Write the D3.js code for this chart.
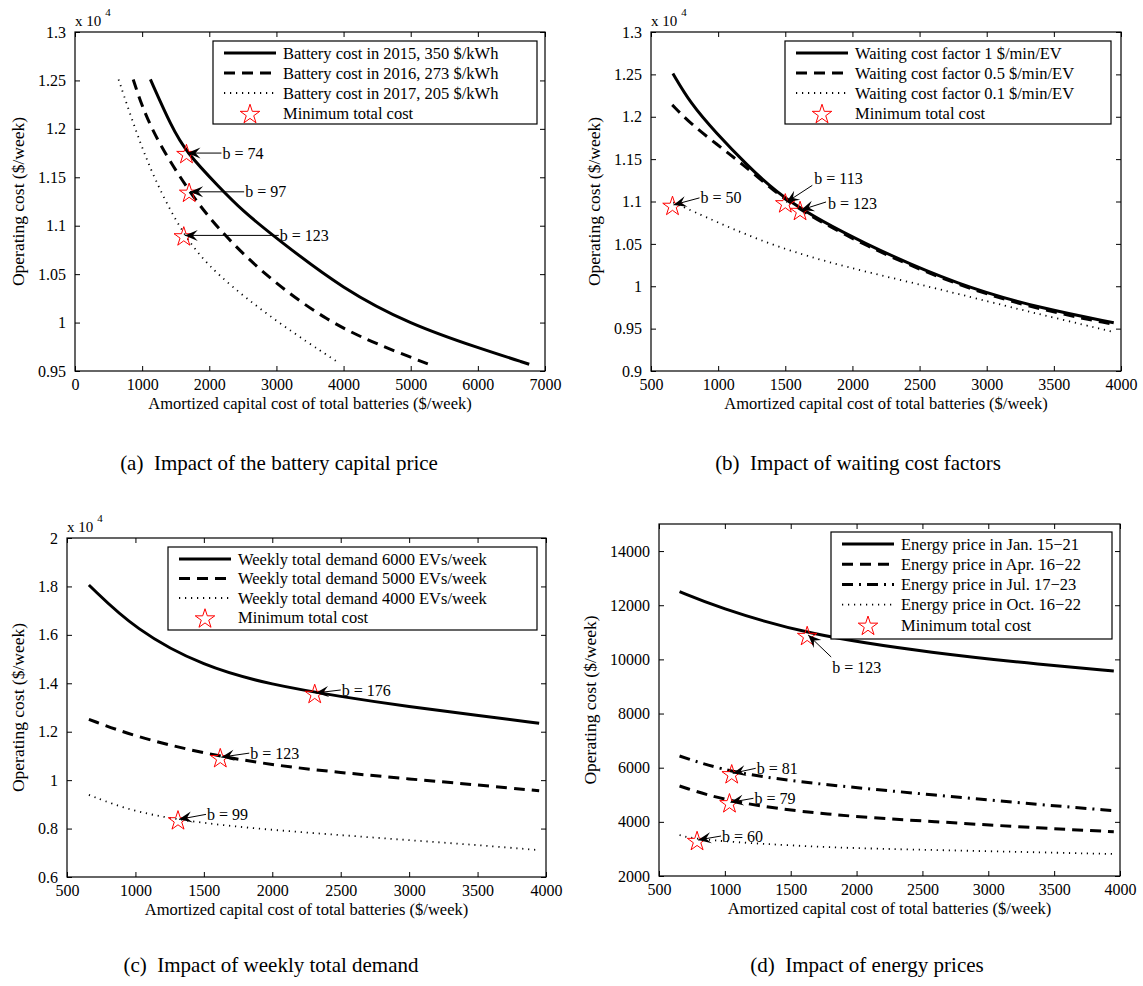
<!DOCTYPE html>
<html>
<head>
<meta charset="utf-8">
<script src="https://cdn.jsdelivr.net/npm/d3@7"></script>
<style>
body { margin: 0; background: #fff; }
text { font-family: "Liberation Serif", "Times New Roman", serif; fill: #000; }
</style>
</head>
<body>
<div id="chart"></div>
<script>
// ---- data ----
// (a) battery capital price, operating cost in x10^4
var a2015 = [[1123,1.251],[1438,1.202],[1655,1.176],[2145,1.140],[2500,1.115],[3000,1.087],[4000,1.034],[5000,0.998],[6000,0.974],[6765,0.957]];
var a2016 = [[867,1.251],[1111,1.200],[1699,1.135],[2090,1.100],[2797,1.050],[3776,1.000],[4590,0.975],[5270,0.957]];
var a2017 = [[649,1.251],[894,1.200],[1166,1.150],[1617,1.089],[2090,1.050],[3014,1.000],[3938,0.958]];
var aMin = [[1660,1.175,"b = 74"],[1700,1.135,"b = 97"],[1620,1.090,"b = 123"]];
var aNames = ["Battery cost in 2015, 350 $/kWh","Battery cost in 2016, 273 $/kWh","Battery cost in 2017, 205 $/kWh"];

// (b) waiting cost factors
var b1 = [[663,1.251],[793,1.216],[984,1.181],[1202,1.145],[1500,1.100],[2071,1.051],[2805,1.000],[3430,0.973],[3946,0.957]];
var b05 = [[658,1.214],[793,1.192],[994,1.167],[1174,1.145],[1419,1.112],[1609,1.090],[2071,1.049],[2805,0.999],[3430,0.971],[3946,0.955]];
var b01 = [[666,1.099],[984,1.076],[1419,1.047],[1935,1.023],[2615,0.998],[3159,0.976],[3500,0.963],[3946,0.946]];
var bMin = [[660,1.096,"b = 50"],[1500,1.099,"b = 113"],[1610,1.090,"b = 123"]];
var bNames = ["Waiting cost factor 1 $/min/EV","Waiting cost factor 0.5 $/min/EV","Waiting cost factor 0.1 $/min/EV"];

// (c) weekly total demand
var c6000 = [[660,1.806],[1000,1.620],[1500,1.468],[2000,1.393],[2500,1.345],[3000,1.303],[3500,1.268],[3950,1.235]];
var c5000 = [[660,1.251],[1000,1.179],[1500,1.110],[2000,1.062],[2500,1.031],[3000,1.005],[3500,0.980],[3950,0.956]];
var c4000 = [[660,0.939],[1000,0.865],[1500,0.821],[2000,0.794],[2500,0.773],[3000,0.752],[3500,0.732],[3950,0.711]];
var cMin = [[2310,1.360,"b = 176"],[1620,1.095,"b = 123"],[1311,0.838,"b = 99"]];
var cNames = ["Weekly total demand 6000 EVs/week","Weekly total demand 5000 EVs/week","Weekly total demand 4000 EVs/week"];

// (d) energy prices
var dJan = [[656,12500],[933,11946],[1625,10900],[2595,10225],[3427,9793],[3953,9571]];
var dApr = [[656,5324],[1035,4722],[1764,4253],[2595,4006],[3427,3760],[3953,3637]];
var dJul = [[656,6432],[1052,5793],[1764,5361],[2595,4991],[3427,4622],[3953,4412]];
var dOct = [[656,3514],[789,3329],[1764,3045],[2595,2960],[3953,2812]];
var dMin = [[1625,10900,"b = 123"],[1052,5793,"b = 81"],[1035,4722,"b = 79"],[789,3329,"b = 60"]];
var dNames = ["Energy price in Jan. 15\u221221","Energy price in Apr. 16\u221222","Energy price in Jul. 17\u221223","Energy price in Oct. 16\u221222"];

var xTicksA = [0,1000,2000,3000,4000,5000,6000,7000];
var xTicksB = [500,1000,1500,2000,2500,3000,3500,4000];
var yTicksA = [0.95,1,1.05,1.1,1.15,1.2,1.25,1.3];
var yTicksB = [0.9,0.95,1,1.05,1.1,1.15,1.2,1.25,1.3];
var yTicksC = [0.6,0.8,1,1.2,1.4,1.6,1.8,2];
var yTicksD = [2000,4000,6000,8000,10000,12000,14000];

var xTitle = "Amortized capital cost of total batteries ($/week)";
var yTitle = "Operating cost ($/week)";
var starName = "Minimum total cost";

// line styles
var SOLID = {w: 3, dash: null};
var DASH = {w: 3, dash: "11,7"};
var DOT = {w: 1.8, dash: "1.2,4.8"};
var DASHDOT = {w: 3, dash: "11,6,2,6"};

var svg = d3.select("#chart").append("svg")
  .attr("width", 1143).attr("height", 986);

function arrow(g, x1, y1, x2, y2) {
  // line from tail (x1,y1) to tip (x2,y2) with MATLAB-like head
  g.append("line").attr("x1", x1).attr("y1", y1).attr("x2", x2).attr("y2", y2)
    .attr("stroke", "#000").attr("stroke-width", 1);
  var ang = Math.atan2(y2 - y1, x2 - x1) * 180 / Math.PI;
  g.append("path")
    .attr("d", "M0,0L-13,-5.5L-8,0L-13,5.5Z")
    .attr("transform", "translate(" + x2 + "," + y2 + ") rotate(" + ang + ")")
    .attr("fill", "#000");
}

function drawPanel(p) {
  var x = d3.scaleLinear().domain(p.xDomain).range([p.left, p.right]);
  var y = d3.scaleLinear().domain(p.yDomain).range([p.bottom, p.top]);
  var g = svg.append("g");

  // axes: inward ticks on all four sides
  var fmt = p.yFormat;
  g.append("g").attr("transform", "translate(0," + p.bottom + ")")
    .call(d3.axisBottom(x).tickValues(p.xTicks).tickSize(-5).tickSizeOuter(0).tickPadding(8).tickFormat(d3.format("d")));
  g.append("g").attr("transform", "translate(" + p.left + ",0)")
    .call(d3.axisLeft(y).tickValues(p.yTicks).tickSize(-5).tickSizeOuter(0).tickPadding(9).tickFormat(fmt));
  g.append("g").attr("transform", "translate(0," + p.top + ")")
    .call(d3.axisTop(x).tickValues(p.xTicks).tickSize(-5).tickSizeOuter(0).tickFormat(""));
  g.append("g").attr("transform", "translate(" + p.right + ",0)")
    .call(d3.axisRight(y).tickValues(p.yTicks).tickSize(-5).tickSizeOuter(0).tickFormat(""));
  g.selectAll(".domain").remove();
  g.selectAll(".tick line").attr("stroke", "#000").attr("stroke-width", 1);
  g.selectAll(".tick text").attr("font-family", "Liberation Serif").attr("font-size", 16).attr("fill", "#000");
  g.append("rect").attr("x", p.left).attr("y", p.top)
    .attr("width", p.right - p.left).attr("height", p.bottom - p.top)
    .attr("fill", "none").attr("stroke", "#000").attr("stroke-width", 1.2);

  // exponent label
  if (p.exp) {
    var e = g.append("text").attr("x", p.left).attr("y", p.top - 6).attr("font-size", 15);
    e.append("tspan").text("x 10");
    e.append("tspan").attr("dx", 4).attr("dy", -10).attr("font-size", 11).text("4");
  }

  // axis titles
  g.append("text").attr("x", (p.left + p.right) / 2).attr("y", p.bottom + 38)
    .attr("text-anchor", "middle").attr("font-size", 16.5).text(xTitle);
  g.append("text").attr("transform", "translate(" + (p.left - p.yTitleOff) + "," + ((p.top + p.bottom) / 2) + ") rotate(-90)")
    .attr("text-anchor", "middle").attr("dy", "0.35em").attr("font-size", 17.5).text(yTitle);

  // curves
  var line = d3.line().x(function(d) { return x(d[0]); }).y(function(d) { return y(d[1]); })
    .curve(d3.curveBasis);
  p.series.forEach(function(s) {
    g.append("path").datum(s.data).attr("d", line)
      .attr("fill", "none").attr("stroke", "#000")
      .attr("stroke-width", s.style.w)
      .attr("stroke-dasharray", s.style.dash);
  });

  // minimum markers
  var star = d3.symbol().type(d3.symbolStar).size(118);
  g.selectAll(".star").data(p.mins).enter().append("path")
    .attr("d", star)
    .attr("transform", function(d) { return "translate(" + x(d[0]) + "," + (y(d[1]) + 1.5) + ")"; })
    .attr("fill", "none").attr("stroke", "#ff0000").attr("stroke-width", 1);

  // annotations
  p.mins.forEach(function(d, i) {
    var o = p.notes[i];
    var sx = x(d[0]), sy = y(d[1]);
    arrow(g, sx + o[0], sy + o[1], sx + 1, sy);
    g.append("text").attr("x", sx + o[0] + (o[2] || 1)).attr("y", sy + o[1] + (o[3] || 0))
      .attr("dy", "0.35em").attr("font-size", 16).text(d[2]);
  });

  // legend
  var L = p.legend;
  var lg = g.append("g");
  lg.append("rect").attr("x", L.x).attr("y", L.y).attr("width", L.w).attr("height", L.h)
    .attr("fill", "#fff").attr("stroke", "#000").attr("stroke-width", 1.2);
  p.series.forEach(function(s, i) {
    var yy = L.y + 12 + i * L.step;
    lg.append("line").attr("x1", L.x + 11).attr("x2", L.x + 63).attr("y1", yy).attr("y2", yy)
      .attr("stroke", "#000").attr("stroke-width", s.style.w).attr("stroke-dasharray", s.style.dash);
    lg.append("text").attr("x", L.x + 70).attr("y", yy).attr("dy", "0.35em")
      .attr("font-size", 16.5).text(s.name);
  });
  var ys = L.y + 12 + p.series.length * L.step;
  lg.append("path").attr("d", star).attr("transform", "translate(" + (L.x + 37) + "," + (ys + 1.5) + ")")
    .attr("fill", "none").attr("stroke", "#ff0000").attr("stroke-width", 1);
  lg.append("text").attr("x", L.x + 70).attr("y", ys).attr("dy", "0.35em")
    .attr("font-size", 16.5).text(starName);

  // caption
  svg.append("text").attr("x", p.capX).attr("y", p.capY).attr("text-anchor", "middle")
    .attr("font-size", 21).attr("xml:space", "preserve").text(p.caption);
}

var fmtSmall = function(v) { return String(+v.toFixed(2)); };

drawPanel({
  left: 75, right: 545, top: 32, bottom: 371,
  xDomain: [0, 7000], yDomain: [0.95, 1.3],
  xTicks: xTicksA, yTicks: yTicksA, yFormat: fmtSmall, exp: true, yTitleOff: 57,
  series: [{data: a2015, style: SOLID, name: aNames[0]},
           {data: a2016, style: DASH, name: aNames[1]},
           {data: a2017, style: DOT, name: aNames[2]}],
  mins: aMin,
  notes: [[35, 0], [55, 0], [95, 0]],
  legend: {x: 213, y: 41, w: 324, h: 83, step: 20},
  caption: "(a)  Impact of the battery capital price", capX: 279, capY: 470
});

drawPanel({
  left: 651, right: 1121, top: 32, bottom: 371,
  xDomain: [500, 4000], yDomain: [0.9, 1.3],
  xTicks: xTicksB, yTicks: yTicksB, yFormat: fmtSmall, exp: true, yTitleOff: 57,
  series: [{data: b1, style: SOLID, name: bNames[0]},
           {data: b05, style: DASH, name: bNames[1]},
           {data: b01, style: DOT, name: bNames[2]}],
  mins: bMin,
  notes: [[27, -7], [27, -17, 2, -7], [26, -8, 2, 1]],
  legend: {x: 785, y: 41, w: 326, h: 83, step: 20},
  caption: "(b)  Impact of waiting cost factors", capX: 858, capY: 470
});

drawPanel({
  left: 67, right: 546, top: 538, bottom: 877,
  xDomain: [500, 4000], yDomain: [0.6, 2],
  xTicks: xTicksB, yTicks: yTicksC, yFormat: fmtSmall, exp: true, yTitleOff: 49,
  series: [{data: c6000, style: SOLID, name: cNames[0]},
           {data: c5000, style: DASH, name: cNames[1]},
           {data: c4000, style: DOT, name: cNames[2]}],
  mins: cMin,
  notes: [[26, -3], [29, -4], [28, -5]],
  legend: {x: 168, y: 547, w: 369, h: 83, step: 19.5},
  caption: "(c)  Impact of weekly total demand", capX: 271, capY: 972
});

drawPanel({
  left: 659, right: 1120, top: 524, bottom: 876,
  xDomain: [500, 4000], yDomain: [2000, 15000],
  xTicks: xTicksB, yTicks: yTicksD, yFormat: d3.format("d"), exp: false, yTitleOff: 69,
  series: [{data: dJan, style: SOLID, name: dNames[0]},
           {data: dApr, style: DASH, name: dNames[1]},
           {data: dJul, style: DASHDOT, name: dNames[2]},
           {data: dOct, style: DOT, name: dNames[3]}],
  mins: dMin,
  notes: [[24, 22, 1, 10], [24, -5], [24, -4], [24, -4]],
  legend: {x: 831, y: 532, w: 281, h: 107, step: 20.2},
  caption: "(d)  Impact of energy prices", capX: 867, capY: 972
});
</script>
</body>
</html>
